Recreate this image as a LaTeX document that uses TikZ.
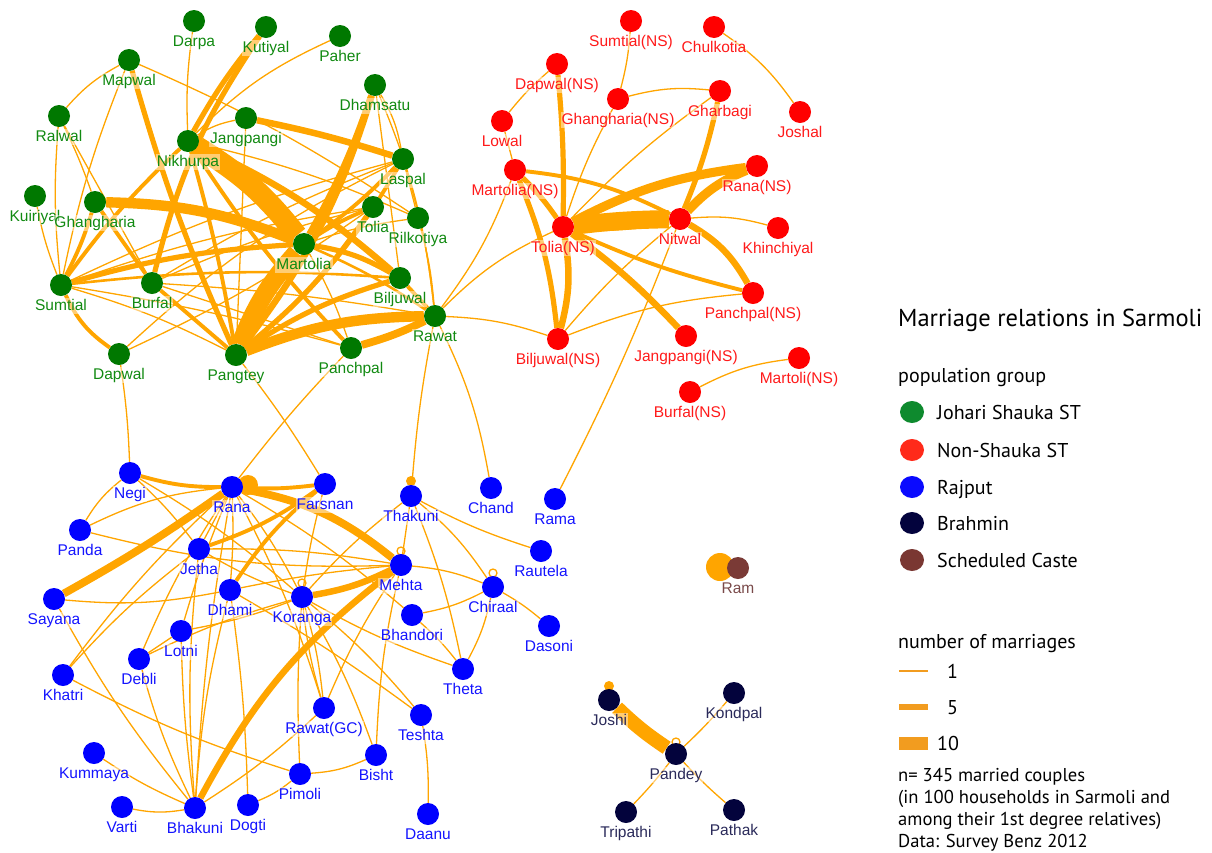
\documentclass[tikz,border=0pt]{standalone}
\usepackage{fontspec}
\setmainfont{Liberation Sans}
\newfontfamily\legfont{PT Sans}
\usetikzlibrary{shapes.geometric}
\pgfdeclarelayer{edges}
\pgfsetlayers{edges,main}
\definecolor{gN}{HTML}{007800}
\definecolor{gL}{HTML}{118A11}
\definecolor{rN}{HTML}{FF0000}
\definecolor{rL}{HTML}{FF1A1A}
\definecolor{bN}{HTML}{0000FF}
\definecolor{bL}{HTML}{1414FF}
\definecolor{kN}{HTML}{03033C}
\definecolor{kL}{HTML}{2A2A5A}
\definecolor{sN}{HTML}{7A3A36}
\definecolor{sL}{HTML}{7A4A4A}
\definecolor{eo}{HTML}{FFA500}
\definecolor{lgG}{HTML}{0E8A2E}
\definecolor{lgR}{HTML}{FF2A1A}
\definecolor{lgB}{HTML}{0A0AFF}
\definecolor{lgK}{HTML}{03033D}
\definecolor{lgS}{HTML}{7A3732}
\definecolor{lgO}{HTML}{F29C1F}
\begin{document}
\begin{tikzpicture}[x=1pt,y=-1pt,
  vtx/.style={circle,inner sep=0pt,minimum size=22pt},
  lab/.style={font=\fontsize{15.5}{16}\selectfont,inner sep=1pt,text height=11.5pt,text depth=3pt,
    fill=white,fill opacity=0.45,text opacity=1},
  gv/.style={vtx,fill=gN,label={[lab,text=gL,label distance=1.5pt]below:#1}},
  rv/.style={vtx,fill=rN,label={[lab,text=rL,label distance=1.5pt]below:#1}},
  bv/.style={vtx,fill=bN,label={[lab,text=bL,label distance=1.5pt]below:#1}},
  kv/.style={vtx,fill=kN,label={[lab,text=kL,label distance=1.5pt]below:#1}},
  sv/.style={vtx,fill=sN,label={[lab,text=sL,label distance=1.5pt]below:#1}},
  ln/.style={draw=eo,line width=#1*1.3pt},
  leg/.style={font=\legfont\fontsize{20}{22}\selectfont,inner sep=0pt,anchor=base west},
  legs/.style={font=\legfont\fontsize{18.6}{22}\selectfont,inner sep=0pt,anchor=base west},
  lgdot/.style={ellipse,inner sep=0pt,minimum width=24pt,minimum height=22pt}
]
\useasboundingbox (0,0) rectangle (1212,852);
% ---------- Johari Shauka (green)
\node[gv=Darpa] (Darpa) at (194,21) {};
\node[gv=Kutiyal] (Kutiyal) at (266,27) {};
\node[gv=Paher] (Paher) at (340,36) {};
\node[gv=Mapwal] (Mapwal) at (129,60) {};
\node[gv=Dhamsatu] (Dhamsatu) at (375,85) {};
\node[gv=Ralwal] (Ralwal) at (59,116) {};
\node[gv=Jangpangi] (Jangpangi) at (246,118) {};
\node[gv=Nikhurpa] (Nikhurpa) at (188,141) {};
\node[gv=Laspal] (Laspal) at (403,159) {};
\node[gv=Kuiriyal] (Kuiriyal) at (35,196) {};
\node[gv=Ghangharia] (Ghangharia) at (95,202) {};
\node[gv=Tolia] (Tolia) at (373,207) {};
\node[gv=Rilkotiya] (Rilkotiya) at (418,218) {};
\node[gv=Martolia] (Martolia) at (304,244) {};
\node[gv=Sumtial] (Sumtial) at (61,285) {};
\node[gv=Burfal] (Burfal) at (152,283) {};
\node[gv=Biljuwal] (Biljuwal) at (400,278) {};
\node[gv=Rawat] (Rawat) at (435,316) {};
\node[gv=Dapwal] (Dapwal) at (119,354) {};
\node[gv=Pangtey] (Pangtey) at (236,355) {};
\node[gv=Panchpal] (Panchpal) at (351,348) {};
% ---------- Non-Shauka (red)
\node[rv={Sumtial(NS)}] (SumtialNS) at (631,21) {};
\node[rv=Chulkotia] (Chulkotia) at (714,27) {};
\node[rv={Dapwal(NS)}] (DapwalNS) at (557,64) {};
\node[rv={Ghangharia(NS)}] (GhanghariaNS) at (618,99) {};
\node[rv=Gharbagi] (Gharbagi) at (720,91) {};
\node[rv=Joshal] (Joshal) at (800,112) {};
\node[rv=Lowal] (Lowal) at (502,121) {};
\node[rv={Martolia(NS)}] (MartoliaNS) at (515,170) {};
\node[rv={Rana(NS)}] (RanaNS) at (757,166) {};
\node[rv={Tolia(NS)}] (ToliaNS) at (563,227) {};
\node[rv=Nitwal] (Nitwal) at (680,219) {};
\node[rv=Khinchiyal] (Khinchiyal) at (778,228) {};
\node[rv={Panchpal(NS)}] (PanchpalNS) at (753,293) {};
\node[rv={Biljuwal(NS)}] (BiljuwalNS) at (558,339) {};
\node[rv={Jangpangi(NS)}] (JangpangiNS) at (686,336) {};
\node[rv={Martoli(NS)}] (MartoliNS) at (799,358) {};
\node[rv={Burfal(NS)}] (BurfalNS) at (690,392) {};
% ---------- Rajput (blue)
\node[bv=Negi] (Negi) at (130,473) {};
\node[bv=Rana] (Rana) at (232,487) {};
\node[bv=Farsnan] (Farsnan) at (325,484) {};
\node[bv=Thakuni] (Thakuni) at (411,496) {};
\node[bv=Chand] (Chand) at (491,488) {};
\node[bv=Rama] (Rama) at (555,499) {};
\node[bv=Panda] (Panda) at (80,530) {};
\node[bv=Jetha] (Jetha) at (199,549) {};
\node[bv=Rautela] (Rautela) at (541,551) {};
\node[bv=Mehta] (Mehta) at (401,565) {};
\node[bv=Chiraal] (Chiraal) at (493,587) {};
\node[bv=Sayana] (Sayana) at (54,599) {};
\node[bv=Dhami] (Dhami) at (230,590) {};
\node[bv=Koranga] (Koranga) at (302,597) {};
\node[bv=Bhandori] (Bhandori) at (412,615) {};
\node[bv=Dasoni] (Dasoni) at (549,626) {};
\node[bv=Lotni] (Lotni) at (181,631) {};
\node[bv=Debli] (Debli) at (139,659) {};
\node[bv=Theta] (Theta) at (463,669) {};
\node[bv=Khatri] (Khatri) at (63,675) {};
\node[bv={Rawat(GC)}] (RawatGC) at (324,708) {};
\node[bv=Teshta] (Teshta) at (421,715) {};
\node[bv=Kummaya] (Kummaya) at (94,753) {};
\node[bv=Bisht] (Bisht) at (376,755) {};
\node[bv=Pimoli] (Pimoli) at (300,774) {};
\node[bv=Varti] (Varti) at (122,807) {};
\node[bv=Bhakuni] (Bhakuni) at (195,808) {};
\node[bv=Dogti] (Dogti) at (248,805) {};
\node[bv=Daanu] (Daanu) at (428,814) {};
% ---------- Brahmin
\node[kv=Joshi] (Joshi) at (609,700) {};
\node[kv=Kondpal] (Kondpal) at (734,693) {};
\node[kv=Pandey] (Pandey) at (676,754) {};
\node[kv=Tripathi] (Tripathi) at (626,812) {};
\node[kv=Pathak] (Pathak) at (734,810) {};
% ---------- Scheduled caste
\node[sv=Ram] (Ram) at (738,568) {};

\begin{pgfonlayer}{edges}
% green thick
\draw[ln=16] (Nikhurpa) to[bend left=10] (Martolia);
\draw[ln=5] (Nikhurpa) to[bend left=8] (Biljuwal);
\draw[ln=8] (Ghangharia) to[bend left=10] (Martolia);
\draw[ln=14] (Pangtey) to[bend left=10] (Martolia);
\draw[ln=5] (Pangtey) to[bend right=10] (Dhamsatu);
\draw[ln=5] (Martolia) to[bend right=5] (Dhamsatu);
\draw[ln=8] (Pangtey) to[bend left=10] (Rawat);
\draw[ln=4] (Pangtey) to[bend left=8] (Biljuwal);
\draw[ln=4] (Pangtey) to[bend right=8] (Tolia);
\draw[ln=3] (Pangtey) to[bend right=10] (Laspal);
\draw[ln=3] (Martolia) to[bend right=5] (Laspal);
\draw[ln=3] (Martolia) to[bend left=5] (Tolia);
\draw[ln=4] (Nikhurpa) to[bend left=5] (Kutiyal);
\draw[ln=4] (Kutiyal) to[bend right=10] (Burfal);
\draw[ln=4] (Mapwal) to[bend right=4] (Pangtey);
\draw[ln=3] (Sumtial) to[bend left=5] (Nikhurpa);
\draw[ln=3] (Sumtial) to[bend right=5] (Ghangharia);
\draw[ln=3] (Sumtial) to[bend right=15] (Dapwal);
\draw[ln=4] (Sumtial) to[bend left=6] (Martolia);
\draw[ln=2] (Sumtial) to[bend left=5] (Biljuwal);
\draw[ln=3] (Ghangharia) to (Burfal);
\draw[ln=3] (Nikhurpa) to[bend right=5] (Panchpal);
\draw[ln=6] (Panchpal) to[bend right=5] (Rawat);
\draw[ln=3] (Burfal) to (Pangtey);
\draw[ln=3] (Nikhurpa) to[bend left=3] (Pangtey);
\draw[ln=5] (Jangpangi) to[bend left=3] (Laspal);
\draw[ln=4] (Martolia) to[bend left=10] (Biljuwal);
\draw[ln=3] (Biljuwal) to (Rawat);
\draw[ln=2] (Martolia) to[bend left=5] (Rawat);
% green thin
\draw[ln=1] (Darpa) to[bend right=5] (Nikhurpa);
\draw[ln=1] (Paher) to[bend right=10] (Nikhurpa);
\draw[ln=1] (Mapwal) to[bend right=10] (Ralwal);
\draw[ln=1] (Mapwal) to[bend right=5] (Sumtial);
\draw[ln=1] (Mapwal) to[bend left=5] (Rilkotiya);
\draw[ln=1] (Ralwal) to[bend right=5] (Sumtial);
\draw[ln=1] (Ralwal) to (Burfal);
\draw[ln=1] (Ralwal) to[bend left=3] (Ghangharia);
\draw[ln=1] (Kuiriyal) to[bend right=5] (Sumtial);
\draw[ln=1] (Jangpangi) to[bend right=10] (Nikhurpa);
\draw[ln=1] (Jangpangi) to (Pangtey);
\draw[ln=1] (Dhamsatu) to[bend left=10] (Laspal);
\draw[ln=1] (Dhamsatu) to (Biljuwal);
\draw[ln=1] (Dhamsatu) to[bend left=8] (Rawat);
\draw[ln=1] (Laspal) to[bend right=5] (Sumtial);
\draw[ln=1] (Laspal) to[bend right=5] (Burfal);
\draw[ln=1] (Laspal) to (Rilkotiya);
\draw[ln=1] (Laspal) to[bend right=8] (Dapwal);
\draw[ln=1] (Laspal) to[bend left=5] (Rawat);
\draw[ln=1] (Tolia) to[bend right=5] (Sumtial);
\draw[ln=1] (Tolia) to[bend right=5] (Burfal);
\draw[ln=1] (Rilkotiya) to[bend left=5] (Rawat);
\draw[ln=1] (Rilkotiya) to[bend right=5] (Martolia);
\draw[ln=1] (Nikhurpa) to[bend left=5] (Rilkotiya);
\draw[ln=1] (Martolia) to[bend left=5] (Panchpal);
\draw[ln=1] (Sumtial) to[bend left=3] (Panchpal);
\draw[ln=1] (Sumtial) to[bend left=5] (Pangtey);
\draw[ln=1] (Burfal) to[bend left=3] (Rawat);
\draw[ln=1] (Burfal) to (Panchpal);
\draw[ln=1] (Dapwal) to[bend right=5] (Tolia);
% long links between groups
\draw[ln=1] (Dapwal) to[bend left=3] (Negi);
\draw[ln=1] (Pangtey) to[bend left=3] (Farsnan);
\draw[ln=1] (Panchpal) to[bend right=3] (Rana);
\draw[ln=1] (Rawat) to[bend right=3] (Thakuni);
\draw[ln=1] (Rawat) to[bend left=8] (Chand);
\draw[ln=1] (Rawat) to[bend right=8] (MartoliaNS);
\draw[ln=1] (Rawat) to[bend left=10] (ToliaNS);
\draw[ln=1] (Rawat) to[bend left=8] (BiljuwalNS);
\draw[ln=1] (Nitwal) to[bend left=3] (Rama);
% red thick
\draw[ln=14] (ToliaNS) to[bend left=3] (Nitwal);
\draw[ln=6] (ToliaNS) to[bend right=5] (Nitwal);
\draw[ln=7] (ToliaNS) to[bend left=10] (RanaNS);
\draw[ln=7] (Nitwal) to[bend left=12] (RanaNS);
\draw[ln=5] (Nitwal) to[bend left=15] (PanchpalNS);
\draw[ln=3] (ToliaNS) to[bend right=5] (PanchpalNS);
\draw[ln=5] (ToliaNS) to[bend left=5] (JangpangiNS);
\draw[ln=5] (ToliaNS) to[bend left=12] (BiljuwalNS);
\draw[ln=4] (MartoliaNS) to[bend left=8] (BiljuwalNS);
\draw[ln=4] (MartoliaNS) to[bend left=5] (ToliaNS);
\draw[ln=3] (MartoliaNS) to[bend left=10] (Nitwal);
\draw[ln=4] (DapwalNS) to[bend left=3] (ToliaNS);
\draw[ln=4] (Gharbagi) to[bend left=5] (Nitwal);
% red thin
\draw[ln=1] (SumtialNS) to[bend left=5] (GhanghariaNS);
\draw[ln=1] (Chulkotia) to[bend left=10] (Joshal);
\draw[ln=1] (DapwalNS) to[bend right=5] (Lowal);
\draw[ln=1] (GhanghariaNS) to[bend left=10] (Gharbagi);
\draw[ln=1] (GhanghariaNS) to[bend right=5] (ToliaNS);
\draw[ln=1] (Gharbagi) to[bend right=5] (ToliaNS);
\draw[ln=1] (Lowal) to (MartoliaNS);
\draw[ln=1] (Nitwal) to[bend left=10] (Khinchiyal);
\draw[ln=1] (BiljuwalNS) to[bend left=8] (PanchpalNS);
\draw[ln=1] (BiljuwalNS) to[bend left=5] (Nitwal);
\draw[ln=1] (BurfalNS) to[bend left=10] (MartoliNS);
% blue thick
\draw[ln=6] (Rana) to[bend left=14] (Mehta);
\draw[ln=5] (Mehta) to[bend right=12] (Bhakuni);
\draw[ln=5] (Koranga) to[bend right=8] (Mehta);
\draw[ln=6] (Rana) to[bend left=3] (Sayana);
\draw[ln=3] (Negi) to[bend right=8] (Rana);
\draw[ln=3] (Rana) to[bend right=5] (Farsnan);
\draw[ln=3] (Jetha) to[bend right=8] (Farsnan);
\draw[ln=3] (Dhami) to[bend left=8] (Farsnan);
% blue thin
\draw[ln=1] (Negi) to[bend right=10] (Panda);
\draw[ln=1] (Negi) to[bend left=5] (Jetha);
\draw[ln=1] (Negi) to[bend left=5] (Koranga);
\draw[ln=1] (Panda) to[bend left=10] (Rana);
\draw[ln=1] (Panda) to[bend right=8] (Mehta);
\draw[ln=1] (Rana) to (Jetha);
\draw[ln=1] (Rana) to[bend left=3] (Dhami);
\draw[ln=1] (Rana) to[bend left=5] (Koranga);
\draw[ln=1] (Rana) to[bend right=5] (Khatri);
\draw[ln=1] (Rana) to[bend right=5] (Debli);
\draw[ln=1] (Rana) to[bend right=3] (Lotni);
\draw[ln=1] (Rana) to[bend right=3] (Bhakuni);
\draw[ln=1] (Rana) to[bend left=5] (RawatGC);
\draw[ln=1] (Rana) to[bend left=5] (Bhandori);
\draw[ln=1] (Jetha) to[bend left=5] (Mehta);
\draw[ln=1] (Jetha) to[bend right=5] (Koranga);
\draw[ln=1] (Jetha) to[bend right=5] (Bhakuni);
\draw[ln=1] (Khatri) to[bend left=5] (Jetha);
\draw[ln=1] (Sayana) to[bend right=8] (Dhami);
\draw[ln=1] (Sayana) to[bend right=5] (Bhakuni);
\draw[ln=1] (Dhami) to[bend left=3] (Mehta);
\draw[ln=1] (Dhami) to[bend right=5] (Bhakuni);
\draw[ln=1] (Dhami) to[bend left=3] (Dogti);
\draw[ln=1] (Dhami) to[bend left=3] (Teshta);
\draw[ln=1] (Koranga) to[bend left=5] (Lotni);
\draw[ln=1] (Koranga) to[bend right=5] (Debli);
\draw[ln=1] (Koranga) to[bend right=5] (RawatGC);
\draw[ln=1] (Koranga) to[bend left=5] (RawatGC);
\draw[ln=1] (Koranga) to[bend right=3] (Pimoli);
\draw[ln=1] (Koranga) to[bend left=5] (Bisht);
\draw[ln=1] (Koranga) to[bend right=5] (Theta);
\draw[ln=1] (Koranga) to[bend left=5] (Teshta);
\draw[ln=1] (Koranga) to[bend left=5] (Thakuni);
\draw[ln=1] (Farsnan) to[bend right=3] (Koranga);
\draw[ln=1] (Lotni) to[bend right=3] (Bhakuni);
\draw[ln=1] (Debli) to (Lotni);
\draw[ln=1] (Debli) to[bend right=5] (Bhakuni);
\draw[ln=1] (Khatri) to[bend right=5] (Pimoli);
\draw[ln=1] (Kummaya) to[bend right=5] (Bhakuni);
\draw[ln=1] (Varti) to[bend right=10] (Bhakuni);
\draw[ln=1] (Bhakuni) to[bend right=5] (RawatGC);
\draw[ln=1] (Dogti) to[bend right=8] (Pimoli);
\draw[ln=1] (Pimoli) to[bend right=10] (Bisht);
\draw[ln=1] (Mehta) to[bend left=8] (Chiraal);
\draw[ln=1] (Mehta) to[bend right=5] (RawatGC);
\draw[ln=1] (Mehta) to[bend right=5] (Bisht);
\draw[ln=1] (Thakuni) to (Mehta);
\draw[ln=1] (Thakuni) to[bend right=5] (Rautela);
\draw[ln=1] (Thakuni) to[bend left=8] (Chiraal);
\draw[ln=1] (Thakuni) to[bend left=5] (Theta);
\draw[ln=1] (Chiraal) to[bend left=8] (Bhandori);
\draw[ln=1] (Chiraal) to[bend left=5] (Dasoni);
\draw[ln=1] (Chiraal) to[bend left=8] (Theta);
\draw[ln=1] (Bhandori) to[bend left=5] (Theta);
\draw[ln=1] (Teshta) to[bend left=5] (Daanu);
% brahmin
\draw[ln=11] (Joshi) to[bend right=5] (Pandey);
\draw[ln=1] (Pandey) to[bend right=3] (Kondpal);
\draw[ln=1] (Pandey) to[bend left=3] (Tripathi);
\draw[ln=1] (Pandey) to[bend right=3] (Pathak);
% self loops
\fill[eo] (Rana) ++(16,-2) circle[radius=10pt];
\fill[eo] (Thakuni) ++(0,-15) circle[radius=5pt];
\draw[ln=1] (Mehta) ++(0,-14) circle[radius=4pt];
\draw[ln=1] (Koranga) ++(0,-14) circle[radius=4pt];
\draw[ln=1] (Chiraal) ++(0,-14) circle[radius=4pt];
\fill[eo] (Joshi) ++(0,-14) circle[radius=5pt];
\draw[ln=1] (Pandey) ++(0,-12) circle[radius=4pt];
\fill[eo] (Ram) ++(-18,-1) circle[radius=14pt];
\end{pgfonlayer}

% ---------- legend
\node[leg,font=\legfont\fontsize{24.5}{27}\selectfont] (title) at (898,326) {Marriage relations in Sarmoli};
\node[leg] (pgroup) at (898,382) {population group};
\node[lgdot,fill=lgG] (dG) at (912,412) {};
\node[lgdot,fill=lgR] (dR) at (912,450) {};
\node[lgdot,fill=lgB] (dB) at (912,487) {};
\node[lgdot,fill=lgK] (dK) at (912,523) {};
\node[lgdot,fill=lgS] (dS) at (912,560) {};
\node[leg] (tG) at (937,419) {Johari Shauka ST};
\node[leg] (tR) at (937,457) {Non-Shauka ST};
\node[leg] (tB) at (937,494) {Rajput};
\node[leg] (tK) at (937,530) {Brahmin};
\node[leg] (tS) at (937,567) {Scheduled Caste};
\node[leg] (nm) at (898,648) {number of marriages};
\coordinate (a1) at (899,671); \coordinate (b1) at (928,671);
\coordinate (a5) at (899,707); \coordinate (b5) at (928,707);
\coordinate (a10) at (899,743); \coordinate (b10) at (928,743);
\draw[lgO,line width=1.5pt] (a1) -- (b1);
\draw[lgO,line width=6.5pt] (a5) -- (b5);
\draw[lgO,line width=13pt] (a10) -- (b10);
\node[leg] (n1) at (947,678) {1};
\node[leg] (n5) at (947,714) {5};
\node[leg] (n10) at (937,750) {10};
\node[legs] (f1) at (898,781) {n= 345 married couples};
\node[legs] (f2) at (898,803) {(in 100 households in Sarmoli and};
\node[legs] (f3) at (898,825) {among their 1st degree relatives)};
\node[legs] (f4) at (898,847) {Data: Survey Benz 2012};
\end{tikzpicture}
\end{document}
